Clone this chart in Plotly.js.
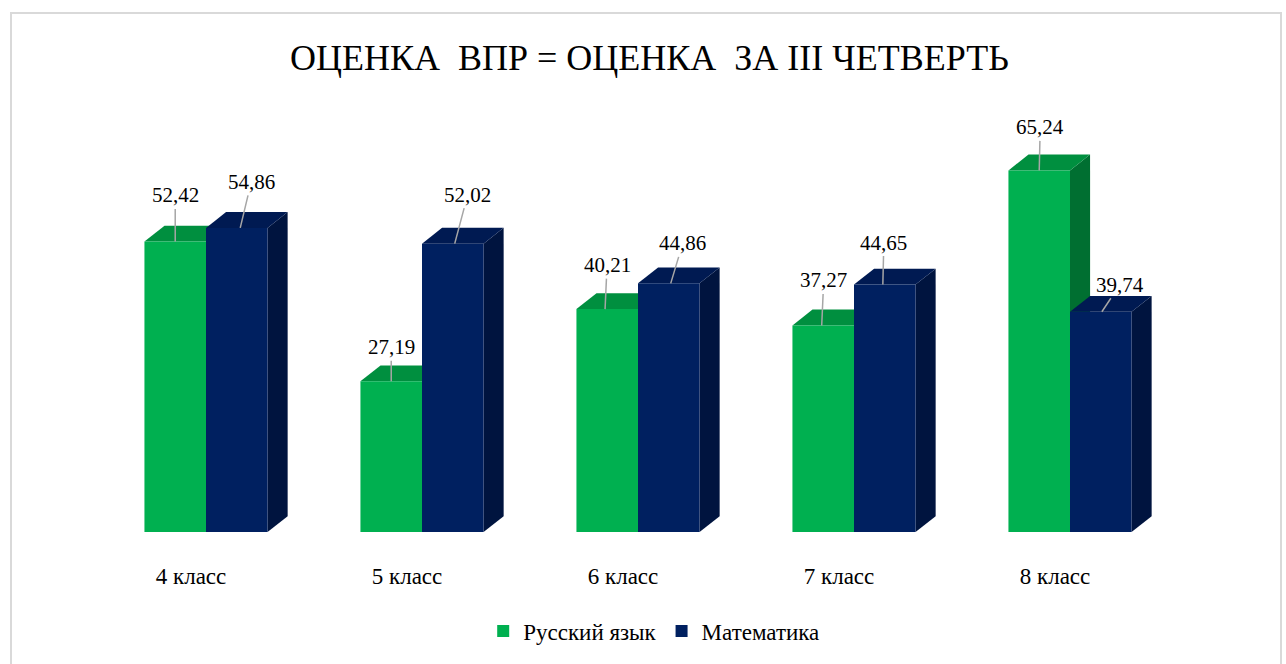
<!DOCTYPE html>
<html>
<head>
<meta charset="utf-8">
<script src="https://cdn.plot.ly/plotly-3.0.1.min.js"></script>
<style>
  html, body { margin: 0; padding: 0; background: #fff; }
  #wrap { position: relative; width: 1286px; height: 664px; overflow: hidden; }
  #chart { position: absolute; left: 0; top: 0; width: 1286px; height: 664px; }
  #frame { position: absolute; left: 10px; top: 12px; width: 1272px; height: 700px;
           border: 2px solid #d9d9d9; box-sizing: border-box; pointer-events: none; }
</style>
</head>
<body>
<div id="wrap">
  <div id="chart"></div>
  <div id="frame"></div>
</div>
<script>
// ---- data ----
const categories = ['4 класс', '5 класс', '6 класс', '7 класс', '8 класс'];
const russian = [52.42, 27.19, 40.21, 37.27, 65.24];
const math = [54.86, 52.02, 44.86, 44.65, 39.74];
const seriesNames = ['Русский язык', 'Математика'];

// ---- style ----
const FONT = 'Liberation Serif';
const colors = {
  front: ['#00B050', '#002060'],
  top:   ['#008F3F', '#001A52'],
  side:  ['#006F31', '#00143F']
};
const barW = 0.285;
const offs = [-barW / 2, barW / 2];
const depthX = 0.093;
const depthY = 2.85;
const labelOff = [
  [[0, -46], [0, -34], [2, -44], [2, -45], [1, -43]],
  [[11, -46], [13, -49], [12, -40], [1, -42], [18, -27]]
];
const tipShift = [[0, 0, -0.01, -0.007, 0], [0.016, 0.009, 0.009, -0.009, 0.005]];

const fmt = v => v.toFixed(2).replace('.', ',');
const xs = categories.map((c, i) => i);
const allSeries = [russian, math];

const traces = allSeries.map((vals, s) => ({
  type: 'bar',
  name: seriesNames[s],
  x: xs,
  y: vals,
  width: barW,
  offset: offs[s] - barW / 2,
  marker: { color: colors.front[s], line: { width: 0 } },
  hoverinfo: 'skip'
}));

const shapes = [];
allSeries.forEach((vals, s) => {
  vals.forEach((v, i) => {
    const xl = i + offs[s] - barW / 2;
    const xr = i + offs[s] + barW / 2;
    shapes.push({
      type: 'path', layer: 'below', xref: 'x', yref: 'y',
      path: `M${xr},0 L${xr + depthX},${depthY} L${xr + depthX},${v + depthY} L${xr},${v} Z`,
      fillcolor: colors.side[s], line: { width: 0 }
    });
    shapes.push({
      type: 'path', layer: 'below', xref: 'x', yref: 'y',
      path: `M${xl},${v} L${xr},${v} L${xr + depthX},${v + depthY} L${xl + depthX},${v + depthY} Z`,
      fillcolor: colors.top[s], line: { width: 0 }
    });
  });
});

const annotations = [];
allSeries.forEach((vals, s) => {
  vals.forEach((v, i) => {
    annotations.push({
      x: i + offs[s] + tipShift[s][i], y: v, xref: 'x', yref: 'y',
      text: fmt(v),
      showarrow: true, arrowhead: 0, arrowwidth: 1.5, arrowcolor: '#a6a6a6',
      ax: labelOff[s][i][0], ay: labelOff[s][i][1],
      standoff: 0, startstandoff: 0,
      font: { family: FONT, size: 21, color: '#000' }
    });
  });
});

const layout = {
  width: 1286, height: 664,
  margin: { l: 98, r: 108, t: 144, b: 126 },
  paper_bgcolor: 'rgba(0,0,0,0)', plot_bgcolor: 'rgba(0,0,0,0)',
  separators: ', ',
  font: { family: FONT },
  title: {
    text: 'ОЦЕНКА  ВПР = ОЦЕНКА  ЗА III ЧЕТВЕРТЬ',
    x: 0.505, xref: 'container', xanchor: 'center',
    y: 0.914, yref: 'container', yanchor: 'middle',
    font: { family: FONT, size: 36, color: '#000' }
  },
  barmode: 'overlay',
  xaxis: {
    range: [-0.5, 4.5], tickvals: xs, ticktext: categories,
    showgrid: false, zeroline: false, showline: false, ticks: '',
    ticklabelshift: -15, ticklabelstandoff: 28,
    tickfont: { family: FONT, size: 23, color: '#000' },
    fixedrange: true
  },
  yaxis: {
    range: [0, 70], visible: false, showgrid: false, zeroline: false, fixedrange: true
  },
  showlegend: true,
  legend: {
    orientation: 'h', x: 0.515, xanchor: 'center', y: -0.255, yanchor: 'middle',
    font: { family: FONT, size: 23, color: '#000' },
    itemwidth: 30, traceorder: 'normal'
  },
  shapes: shapes,
  annotations: annotations
};

Plotly.newPlot('chart', traces, layout, { displayModeBar: false });
</script>
</body>
</html>
